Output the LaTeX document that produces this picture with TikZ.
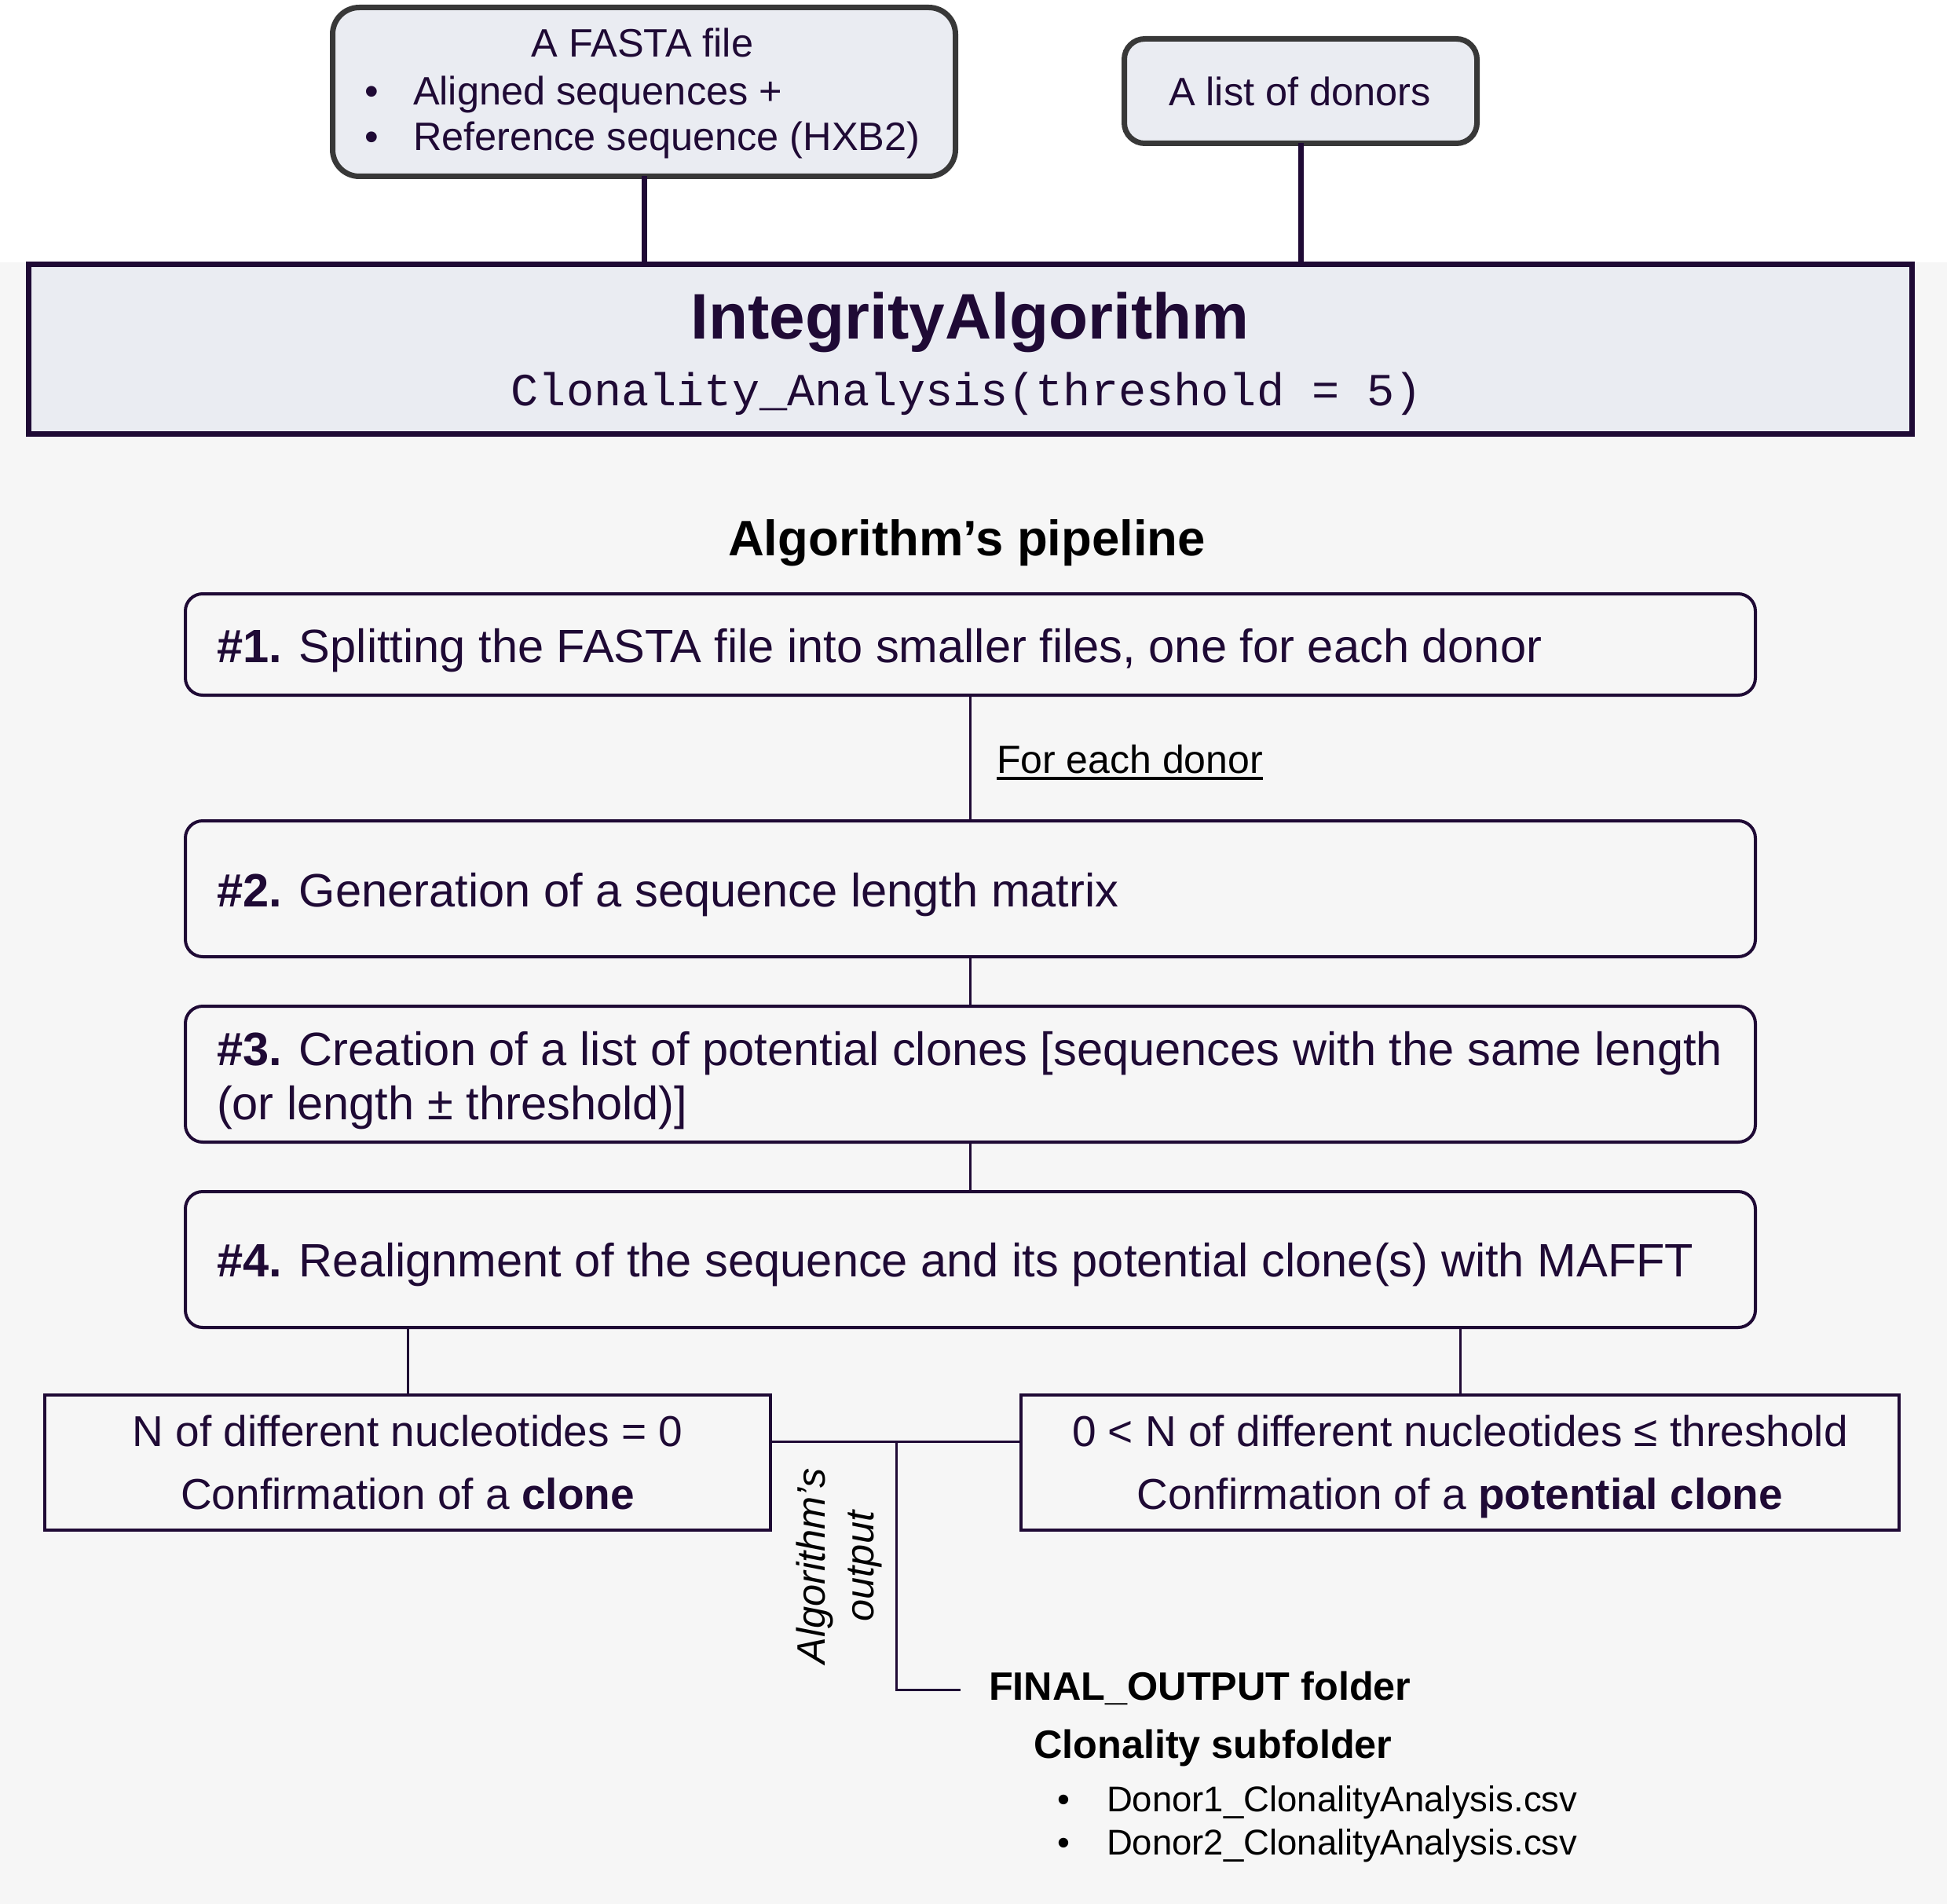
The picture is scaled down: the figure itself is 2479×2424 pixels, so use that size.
\documentclass[tikz,border=0pt]{standalone}
\usepackage{fontspec}
\setmainfont{Liberation Sans}
\setmonofont{Liberation Mono}
\usetikzlibrary{calc}
\definecolor{ink}{HTML}{1F0A35}
\definecolor{frame}{HTML}{383838}
\definecolor{panel}{HTML}{EAECF2}
\definecolor{bg}{HTML}{F6F6F6}
\newcommand\fs[1]{\fontsize{#1pt}{#1pt}\selectfont}
\begin{document}
\begin{tikzpicture}[x=1pt,y=-1pt,
  every node/.style={inner sep=0pt, outer sep=0pt},
  inputbox/.style={draw=frame, line width=7pt, fill=panel, rounded corners=34pt},
  algobox/.style={draw=ink, line width=7pt, fill=panel},
  stagebox/.style={draw=ink, line width=4pt, fill=bg, rounded corners=22pt, minimum width=1999pt},
  resultbox/.style={draw=ink, line width=4pt, fill=bg, minimum height=172pt},
  feed/.style={draw=ink, line width=7pt},
  wire/.style={draw=ink, line width=3pt},
  lbl/.style={text=ink},
  blk/.style={text=black}
]
\useasboundingbox (0,0) rectangle (2479,2424);
\fill[white] (0,0) rectangle (2479,2424);
\fill[bg] (0,334) rectangle (2479,2424);

% inputs
\node[inputbox, minimum width=793pt, minimum height=215pt] (fasta) at (820,117) {};
\node[inputbox, rounded corners=26pt, minimum width=449pt, minimum height=133pt] (donors) at (1656,116) {};
\node[lbl, anchor=base, font=\fs{50.5}] (fastaT) at (818,73) {A FASTA file};
\node[lbl, anchor=base, font=\fs{50.5}] (fastaB1) at (473,134) {•};
\node[lbl, anchor=base west, font=\fs{50.5}] (fastaL1) at (526,134) {Aligned sequences +};
\node[lbl, anchor=base, font=\fs{50.5}] (fastaB2) at (473,192) {•};
\node[lbl, anchor=base west, font=\fs{50.5}] (fastaL2) at (526,192) {Reference sequence (HXB2)};
\node[lbl, anchor=base, font=\fs{50.5}] (donorsT) at (1655,135) {A list of donors};

% algorithm header
\node[algobox, minimum width=2398pt, minimum height=216pt] (algo) at (1235.5,444.5) {};
\node[lbl, anchor=base, font=\fs{82}\bfseries] (algoT) at (1235,431) {IntegrityAlgorithm};
\node[lbl, anchor=base, font=\fs{58.6}\ttfamily] (algoF) at (1231,516) {Clonality\_Analysis(threshold = 5)};

\draw[feed] (fasta.south) -- (fasta.south |- algo.north);
\draw[feed] (donors.south) -- (donors.south |- algo.north);

% pipeline
\node[blk, anchor=base, font=\fs{63.5}\bfseries] (pipeT) at (1231,707) {Algorithm’s pipeline};

\node[stagebox, minimum height=129pt] (s1) at (1235.5,820.5) {};
\node[stagebox, minimum height=173pt] (s2) at (1235.5,1131.5) {};
\node[stagebox, minimum height=173pt] (s3) at (1235.5,1367.5) {};
\node[stagebox, minimum height=173pt] (s4) at (1235.5,1603.5) {};

\node[lbl, anchor=base west, font=\fs{59.6}] (s1T) at (276,843) {\textbf{\#1.} Splitting the FASTA file into smaller files, one for each donor};
\node[lbl, anchor=base west, font=\fs{59.6}] (s2T) at (276,1154) {\textbf{\#2.} Generation of a sequence length matrix};
\node[lbl, anchor=base west, font=\fs{59.6}] (s3T) at (276,1356) {\textbf{\#3.} Creation of a list of potential clones [sequences with the same length};
\node[lbl, anchor=base west, font=\fs{59.6}] (s3U) at (276,1425) {(or length ± threshold)]};
\node[lbl, anchor=base west, font=\fs{59.6}] (s4T) at (276,1625) {\textbf{\#4.} Realignment of the sequence and its potential clone(s) with MAFFT};

\draw[wire] (s1.south) -- (s2.north);
\draw[wire] (s2.south) -- (s3.north);
\draw[wire] (s3.south) -- (s4.north);

\node[blk, anchor=base west, font=\fs{50}] (each) at (1269,984) {For each donor};
\draw[line width=4pt, black] ([yshift=-7pt]each.base west) -- ([yshift=-7pt]each.base east);

% outcomes
\node[resultbox, minimum width=924pt] (clone) at (519,1862) {};
\node[resultbox, minimum width=1118pt] (pclone) at (1859,1862) {};
\node[lbl, anchor=base, font=\fs{55}] (cloneA) at (519,1841) {N of different nucleotides = 0};
\node[lbl, anchor=base, font=\fs{55}] (cloneB) at (519,1921) {Confirmation of a \textbf{clone}};
\node[lbl, anchor=base, font=\fs{55}] (pcloneA) at (1859,1841) {0 < N of different nucleotides ≤ threshold};
\node[lbl, anchor=base, font=\fs{55}] (pcloneB) at (1859,1921) {Confirmation of a \textbf{potential clone}};

\draw[wire] (s4.south -| clone.north) -- (clone.north);
\draw[wire] (s4.south -| pclone.north) -- (pclone.north);

\coordinate (join) at (1141,1835);
\coordinate (outend) at (1223,2151);
\draw[wire] (clone.east |- join) -- (pclone.west |- join);
\draw[wire] (join) |- (outend);

\node[blk, rotate=90, align=center, font={\fontsize{50.5pt}{62pt}\selectfont\itshape}] (outlbl) at (1068,1994) {Algorithm’s\\output};

% output folder
\node[blk, anchor=base west, font=\fs{50.4}\bfseries] (finalT) at (1259,2164) {FINAL\_OUTPUT folder};
\node[blk, anchor=base west, font=\fs{50.4}\bfseries] (subT) at (1316,2238) {Clonality subfolder};
\node[blk, anchor=base, font=\fs{45.5}] (fb1) at (1354,2306) {•};
\node[blk, anchor=base west, font=\fs{45.5}] (f1) at (1409,2306) {Donor1\_ClonalityAnalysis.csv};
\node[blk, anchor=base, font=\fs{45.5}] (fb2) at (1354,2361) {•};
\node[blk, anchor=base west, font=\fs{45.5}] (f2) at (1409,2361) {Donor2\_ClonalityAnalysis.csv};
\end{tikzpicture}
\end{document}
